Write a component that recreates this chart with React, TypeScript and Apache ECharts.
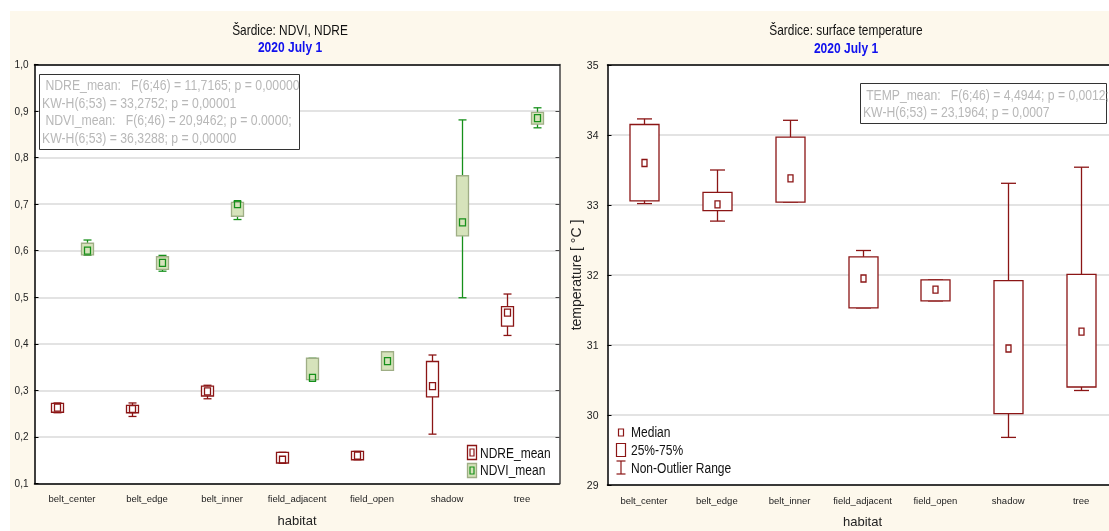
import React, { useEffect, useRef } from "react";
import * as echarts from "echarts";

const habitats = ["belt_center", "belt_edge", "belt_inner", "field_adjacent", "field_open", "shadow", "tree"];

// NDRE_mean: non-outlier min, 25%, median, 75%, non-outlier max
const ndreMin = [0.252, 0.244, 0.282, 0.144, 0.151, 0.206, 0.418];
const ndreQ1 = [0.253, 0.252, 0.288, 0.144, 0.151, 0.286, 0.438];
const ndreMed = [0.263, 0.260, 0.298, 0.151, 0.160, 0.309, 0.467];
const ndreQ3 = [0.272, 0.268, 0.309, 0.167, 0.169, 0.362, 0.480];
const ndreMax = [0.273, 0.273, 0.311, 0.167, 0.169, 0.376, 0.507];

// NDVI_mean
const ndviMin = [0.590, 0.556, 0.667, 0.323, 0.343, 0.499, 0.864];
const ndviQ1 = [0.591, 0.560, 0.674, 0.323, 0.343, 0.632, 0.872];
const ndviMed = [0.600, 0.574, 0.700, 0.327, 0.363, 0.661, 0.885];
const ndviQ3 = [0.616, 0.587, 0.704, 0.369, 0.383, 0.761, 0.897];
const ndviMax = [0.623, 0.590, 0.706, 0.369, 0.383, 0.881, 0.907];

// surface temperature [°C]
const tMin = [33.02, 32.77, 33.04, 31.53, 31.63, 29.68, 30.35];
const tQ1 = [33.06, 32.92, 33.04, 31.53, 31.63, 30.02, 30.40];
const tMed = [33.60, 33.01, 33.38, 31.95, 31.79, 30.95, 31.19];
const tQ3 = [34.15, 33.18, 33.97, 32.26, 31.93, 31.92, 32.01];
const tMax = [34.23, 33.50, 34.21, 32.35, 31.93, 33.31, 33.54];

const leftTicks = ["0,1", "0,2", "0,3", "0,4", "0,5", "0,6", "0,7", "0,8", "0,9", "1,0"];
const rightTicks = ["29", "30", "31", "32", "33", "34", "35"];

const statsLeft = [
  " NDRE_mean:   F(6;46) = 11,7165; p = 0,00000",
  "KW-H(6;53) = 33,2752; p = 0,00001",
  " NDVI_mean:   F(6;46) = 20,9462; p = 0.0000;",
  "KW-H(6;53) = 36,3288; p = 0,00000",
];
const statsRight = [" TEMP_mean:   F(6;46) = 4,4944; p = 0,0012;", "KW-H(6;53) = 23,1964; p = 0,0007"];

const FONT = '"Liberation Sans", Arial, sans-serif';
const RED = "#8b1515";
const GREEN = "#16901a";
const CREAM = "#fdf8ec";

const build = (mn: number[], q1: number[], md: number[], q3: number[], mx: number[]) =>
  mn.map((v, i) => [i, v, q1[i], md[i], q3[i], mx[i]]);

const makeRender =
  (offset: number, boxW: number, capW: number, mW: number, mH: number, st: any) =>
  (_p: any, api: any) => {
    const c = api.value(0);
    const pMin = api.coord([c, api.value(1)]);
    const pQ1 = api.coord([c, api.value(2)]);
    const pMed = api.coord([c, api.value(3)]);
    const pQ3 = api.coord([c, api.value(4)]);
    const pMax = api.coord([c, api.value(5)]);
    const x = Math.round(pMin[0] + offset) + 0.5;
    const ls = { stroke: st.whisker, lineWidth: st.lw };
    return {
      type: "group",
      children: [
        { type: "line", shape: { x1: x, y1: pMax[1], x2: x, y2: pMin[1] }, style: ls },
        { type: "line", shape: { x1: x - capW / 2, y1: pMax[1], x2: x + capW / 2, y2: pMax[1] }, style: ls },
        { type: "line", shape: { x1: x - capW / 2, y1: pMin[1], x2: x + capW / 2, y2: pMin[1] }, style: ls },
        {
          type: "rect",
          shape: { x: x - boxW / 2, y: pQ3[1], width: boxW, height: Math.max(pQ1[1] - pQ3[1], 1) },
          style: { fill: st.boxFill, stroke: st.boxStroke, lineWidth: st.lw },
        },
        {
          type: "rect",
          shape: { x: x - mW / 2, y: pMed[1] - mH / 2, width: mW, height: mH },
          style: { fill: "none", stroke: st.med, lineWidth: st.lw },
        },
      ],
    };
  };

// narrow-looking text: regular font squeezed horizontally
const txt = (x: number, y: number, text: string, size: number, sx: number, fill: string, extra: any = {}) => ({
  type: "text",
  z: 51,
  x,
  y,
  scaleX: sx,
  style: { text, font: `${extra.bold ? "bold " : ""}${size}px ${FONT}`, fill, align: extra.align || "left", verticalAlign: "middle" },
});

export default function App() {
  const ref = useRef<HTMLDivElement>(null);
  useEffect(() => {
    if (!ref.current) return;
    const chart = echarts.init(ref.current, null, { renderer: "svg" });
    const axisLab = { fontFamily: FONT, fontSize: 9.5, color: "#222" };
    const baseX = (grid: number) => ({
      type: "category",
      gridIndex: grid,
      data: habitats,
      axisLine: { lineStyle: { color: "#000", width: 1.5 } },
      axisTick: { inside: true, alignWithLabel: true, length: 4, lineStyle: { color: "#000" } },
      axisLabel: { ...axisLab, interval: 0, margin: 10 },
      name: "habitat",
      nameLocation: "middle",
      nameGap: 30,
      nameTextStyle: { fontFamily: FONT, fontSize: 13, color: "#222" },
      splitLine: { show: false },
    });
    const topX = (grid: number) => ({
      type: "category",
      gridIndex: grid,
      position: "top",
      data: habitats,
      axisLine: { lineStyle: { color: "#000", width: 1.5 } },
      axisTick: { inside: true, alignWithLabel: true, length: 4, lineStyle: { color: "#000" } },
      axisLabel: { show: false },
    });
    const option: any = {
      animation: false,
      textStyle: { fontFamily: FONT },
      graphic: [
        { type: "rect", z: -10, silent: true, shape: { x: 10, y: 11, width: 1099, height: 520 }, style: { fill: CREAM } },
        txt(290, 30, "Šardice: NDVI, NDRE", 14, 0.85, "#111", { align: "center" }),
        txt(290, 47, "2020 July 1", 14, 0.86, "#1010ee", { align: "center", bold: true }),
        txt(846, 30, "Šardice: surface temperature", 14, 0.85, "#111", { align: "center" }),
        txt(846, 48, "2020 July 1", 14, 0.86, "#1010ee", { align: "center", bold: true }),
        // stats box left
        { type: "rect", z: 50, shape: { x: 39.5, y: 74.5, width: 260, height: 75 }, style: { fill: "#fff", stroke: "#333", lineWidth: 1 } },
        ...statsLeft.map((t, i) => txt(42, 85 + i * 17.8, t, 14, 0.875, "#b8b8b8")),
        // stats box right
        { type: "rect", z: 50, shape: { x: 860.5, y: 83.5, width: 246, height: 40 }, style: { fill: "#fff", stroke: "#333", lineWidth: 1 } },
        ...statsRight.map((t, i) => txt(863, 95 + i * 17.5, t, 14, 0.87, "#b8b8b8")),
        // left legend
        { type: "rect", z: 50, shape: { x: 467.5, y: 445.5, width: 9, height: 14 }, style: { fill: "#fff", stroke: RED, lineWidth: 1.3 } },
        { type: "rect", z: 51, shape: { x: 470, y: 449, width: 4, height: 7 }, style: { fill: "none", stroke: RED, lineWidth: 1.2 } },
        txt(480, 453, "NDRE_mean", 15, 0.8, "#111"),
        { type: "rect", z: 50, shape: { x: 467.5, y: 463.5, width: 9, height: 14 }, style: { fill: "#d6e3bb", stroke: "#9fae86", lineWidth: 1.3 } },
        { type: "rect", z: 51, shape: { x: 470, y: 467, width: 4, height: 7 }, style: { fill: "none", stroke: GREEN, lineWidth: 1.2 } },
        txt(480, 470, "NDVI_mean", 15, 0.8, "#111"),
        // right legend
        { type: "rect", z: 50, shape: { x: 618.5, y: 429, width: 5, height: 7 }, style: { fill: "none", stroke: RED, lineWidth: 1.2 } },
        txt(631, 432, "Median", 14.5, 0.83, "#111"),
        { type: "rect", z: 50, shape: { x: 616.5, y: 443.5, width: 9, height: 13 }, style: { fill: "none", stroke: RED, lineWidth: 1.2 } },
        txt(631, 450, "25%-75%", 14.5, 0.83, "#111"),
        { type: "line", z: 50, shape: { x1: 621, y1: 461, x2: 621, y2: 474 }, style: { stroke: RED, lineWidth: 1.2 } },
        { type: "line", z: 50, shape: { x1: 616.5, y1: 461, x2: 625.5, y2: 461 }, style: { stroke: RED, lineWidth: 1.2 } },
        { type: "line", z: 50, shape: { x1: 616.5, y1: 474, x2: 625.5, y2: 474 }, style: { stroke: RED, lineWidth: 1.2 } },
        txt(631, 468, "Non-Outlier Range", 14.5, 0.83, "#111"),
      ],
      grid: [
        { left: 34.5, top: 64.5, width: 525, height: 419, show: true, backgroundColor: "#fff", borderWidth: 0, outerBoundsMode: "none", containLabel: false },
        { left: 607.5, top: 65, width: 510, height: 420, show: true, backgroundColor: "#fff", borderWidth: 0, outerBoundsMode: "none", containLabel: false },
      ],
      xAxis: [baseX(0), topX(0), baseX(1), topX(1)].map((a: any, i) => ({ ...a, gridIndex: i < 2 ? 0 : 1 })),
      yAxis: [
        {
          type: "value",
          gridIndex: 0,
          min: 0.1,
          max: 1.0,
          interval: 0.1,
          axisLine: { show: true, lineStyle: { color: "#000", width: 1.5 } },
          axisTick: { show: true, inside: true, length: 4, lineStyle: { color: "#000" } },
          axisLabel: { ...axisLab, fontSize: 10, margin: 6, formatter: (v: number) => leftTicks[Math.round(v * 10) - 1] ?? String(v) },
          splitLine: { show: true, lineStyle: { color: "#dadada", width: 1.5 } },
        },
        {
          type: "value",
          gridIndex: 0,
          position: "right",
          min: 0.1,
          max: 1.0,
          interval: 0.1,
          axisLine: { show: true, lineStyle: { color: "#444", width: 1.5 } },
          axisTick: { show: true, inside: true, length: 4, lineStyle: { color: "#444" } },
          axisLabel: { show: false },
          splitLine: { show: false },
        },
        {
          type: "value",
          gridIndex: 1,
          min: 29,
          max: 35,
          interval: 1,
          name: "temperature [ °C ]",
          nameLocation: "middle",
          nameGap: 21,
          nameTextStyle: { fontFamily: FONT, fontSize: 14, color: "#222" },
          axisLine: { show: true, lineStyle: { color: "#000", width: 1.5 } },
          axisTick: { show: true, inside: true, length: 4, lineStyle: { color: "#000" } },
          axisLabel: { ...axisLab, fontSize: 10.5, margin: 9, formatter: (v: number) => rightTicks[Math.round(v) - 29] ?? String(v) },
          splitLine: { show: true, lineStyle: { color: "#dadada", width: 1.5 } },
        },
      ],
      series: [
        {
          type: "custom",
          name: "NDRE_mean",
          xAxisIndex: 0,
          yAxisIndex: 0,
          encode: { x: 0, y: [1, 2, 3, 4, 5] },
          data: build(ndreMin, ndreQ1, ndreMed, ndreQ3, ndreMax),
          renderItem: makeRender(-15, 12, 8, 6, 7, { whisker: RED, boxFill: "#fff", boxStroke: RED, med: RED, lw: 1.3 }),
        },
        {
          type: "custom",
          name: "NDVI_mean",
          xAxisIndex: 0,
          yAxisIndex: 0,
          encode: { x: 0, y: [1, 2, 3, 4, 5] },
          data: build(ndviMin, ndviQ1, ndviMed, ndviQ3, ndviMax),
          renderItem: makeRender(15, 12, 8, 6, 7, {
            whisker: GREEN,
            boxFill: "#d6e3bb",
            boxStroke: "#9fae86",
            med: GREEN,
            lw: 1.3,
          }),
        },
        {
          type: "custom",
          name: "TEMP_mean",
          xAxisIndex: 2,
          yAxisIndex: 2,
          encode: { x: 0, y: [1, 2, 3, 4, 5] },
          data: build(tMin, tQ1, tMed, tQ3, tMax),
          renderItem: makeRender(0, 29, 15, 5, 7, { whisker: RED, boxFill: "#fff", boxStroke: RED, med: RED, lw: 1.3 }),
        },
      ],
    };
    chart.setOption(option);
    return () => chart.dispose();
  }, []);
  return <div ref={ref} style={{ position: "fixed", left: 0, top: 0, width: 1109, height: 531 }} />;
}
